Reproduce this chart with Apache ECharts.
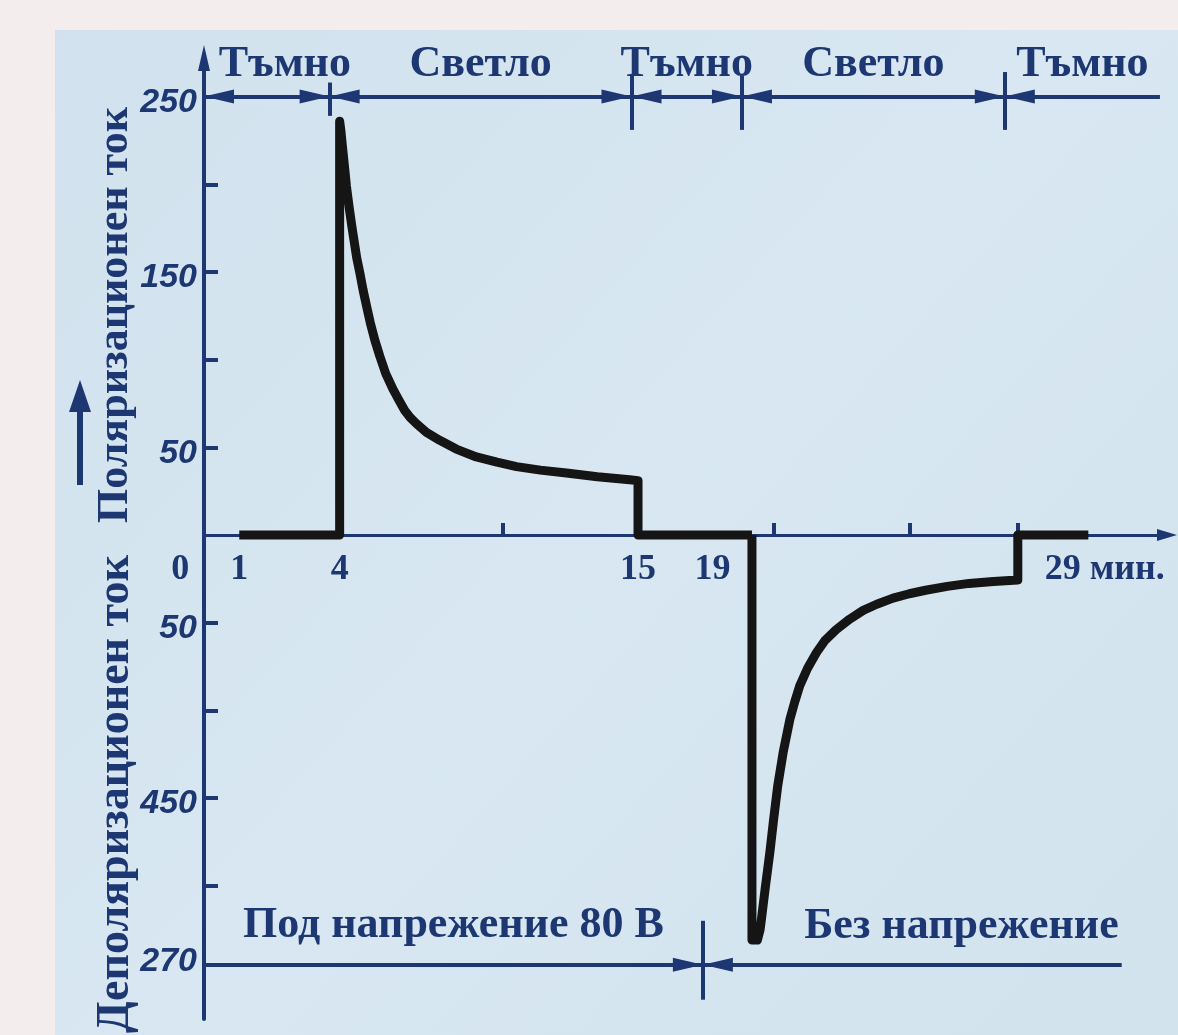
<!DOCTYPE html>
<html><head><meta charset="utf-8">
<script src="https://cdn.jsdelivr.net/npm/echarts@6.0.0/dist/echarts.min.js"></script>
<style>html,body{margin:0;padding:0;background:#f3eeed;} #c{width:1178px;height:1035px;}</style>
</head><body><div id="c"></div>
<script>
// ---- data ----
const polarizationTime    = [0.3, 4.0, 4.0, 4.05, 4.1, 4.18, 4.25, 4.35, 4.45, 4.55, 4.63, 4.75, 4.86, 5.0, 5.13, 5.3, 5.48, 5.7, 5.97, 6.2, 6.4, 6.6, 6.83, 7.2, 7.69, 8.3, 9.04, 9.8, 10.52, 11.4, 12.36, 13.5, 14.69, 15.0, 15.0, 19.2];
const polarizationCurrent = [0,   0,   236, 230,  222, 210,  199,  187,  176,  166,  158,  149,  140,  130, 121,  111, 102,  92,  83,   76.5, 71, 67,  63.5, 58.5, 54,  49,  44.5, 41.5, 39,   37,   35.3,  33.2, 31.5,  31,   0,    0];
const depolarizationTime    = [19.2, 19.2, 19.4, 19.5, 19.55, 19.7, 19.86, 20.0, 20.15, 20.35, 20.6, 20.78, 20.96, 21.25, 21.58, 21.9, 22.3, 22.8, 23.3, 23.8, 24.4, 25.0, 25.6, 26.4, 27.2, 28.1, 29.0, 29.0, 31.6];
const depolarizationCurrent = [0,    -231, -231, -225, -219,  -200, -181,  -162, -143,  -124,  -105, -95,   -86,   -76,   -67,   -60,  -54,  -48,  -43,  -39.5, -36, -33.5, -31.5, -29.3, -27.6, -26.5, -25.7, 0,  0];

const yLabelValues = [250, 150, 50, -50, -150, -250];
const yLabelTexts  = ['250', '150', '50', '50', '450', '270'];
const yTickValues  = [200, 150, 100, 50, -50, -100, -150, -200];
const xLabelValues = [0, 1, 4, 15, 19, 29];
const xLabelTexts  = ['0', '1', '4', '15', '19', '29 мин.'];
const xTickValues  = [10, 20, 25, 29];

const lightPhaseNames  = ['Тъмно', 'Светло', 'Тъмно', 'Светло', 'Тъмно'];
const lightPhaseBounds = [-1, 3.63, 14.76, 18.83, 28.52, 34.24];
const lightBarLevel = 250;
const lightSeparatorLow  = [239, 231, 231, 231];
const lightSeparatorHigh = [258, 262, 262, 264];

const voltagePhaseNames  = ['Под напрежение 80 В', 'Без напрежение'];
const voltagePhaseBounds = [-1, 17.39, 32.83];
const voltageBarLevel = -245;
const voltageSeparatorRange = [-220, -265];

// ---- styles ----
const ink = '#1d3772';
const curve = '#151515';
const serif = '"Liberation Serif", "DejaVu Serif", serif';
const sans = '"Liberation Sans", Arial, sans-serif';
const arrow = [14, 30];
const arrowOff = [0, 15];

const Y_MIN = -276, Y_MAX = 272, G_TOP = 58, G_BOTTOM = 16, H = 1035;
const plotH = H - G_TOP - G_BOTTOM;
const zeroOffset = -(plotH * (0 - Y_MIN) / (Y_MAX - Y_MIN));

const xShift = [[0,102,0,0],[0,38,0,0],[0,0,0,0],[0,0,0,0],[0,68,0,0],[0,0,0,174]];
const xRich = {};
xShift.forEach((p, i) => { xRich['x' + i] = {fontFamily: serif, fontWeight: 'bold', fontSize: 36, color: ink, padding: p}; });
const yRich = {
  n: {fontFamily: sans, fontWeight: 'bold', fontStyle: 'italic', fontSize: 34, color: ink, padding: [12,0,0,0]},
  b: {fontFamily: sans, fontWeight: 'bold', fontStyle: 'italic', fontSize: 34, color: ink, padding: [0,0,24,0]}
};
const lightLabelPad = [[0,0,0,36],[0,0,0,0],[0,0,0,0],[0,0,0,0],[0,0,0,0]];

const lightLines = lightPhaseNames.map((name, i) => [
  {name: name, coord: [lightPhaseBounds[i], lightBarLevel], symbol: 'triangle', symbolSize: arrow, symbolOffset: arrowOff,
   label: {padding: lightLabelPad[i]}},
  {coord: [lightPhaseBounds[i + 1], lightBarLevel], symbol: i === lightPhaseNames.length - 1 ? 'none' : 'triangle', symbolSize: arrow, symbolOffset: arrowOff}
]);
const lightSeps = lightPhaseBounds.slice(1, -1).map((t, i) => [
  {coord: [t, lightSeparatorLow[i]], symbol: 'none', label: {show: false}},
  {coord: [t, lightSeparatorHigh[i]], symbol: 'none'}
]);
const voltageLines = voltagePhaseNames.map((name, i) => [
  {name: name, coord: [voltagePhaseBounds[i], voltageBarLevel], symbol: i === 0 ? 'none' : 'triangle', symbolSize: arrow, symbolOffset: arrowOff,
   label: i === 0 ? {position: 'insideMiddleTop'} : {position: 'insideEndTop', distance: [3, 16]}},
  {coord: [voltagePhaseBounds[i + 1], voltageBarLevel], symbol: i === 0 ? 'triangle' : 'none', symbolSize: arrow, symbolOffset: arrowOff}
]);
const voltageSeps = voltagePhaseBounds.slice(1, -1).map(t => [
  {coord: [t, voltageSeparatorRange[0]], symbol: 'none', label: {show: false}},
  {coord: [t, voltageSeparatorRange[1]], symbol: 'none'}
]);

const topLabel = {show: true, position: 'insideMiddleTop', formatter: '{b}', distance: 10,
  fontFamily: serif, fontWeight: 'bold', fontSize: 44, color: ink};
const bottomLabel = Object.assign({}, topLabel, {distance: 17});

const chart = echarts.init(document.getElementById('c'), null, {renderer: 'canvas'});
chart.setOption({
  animation: false,
  backgroundColor: '#f3eeed',
  grid: {left: 204, right: 11, top: G_TOP, bottom: G_BOTTOM, containLabel: false, outerBoundsMode: 'none'},
  xAxis: {
    type: 'value', min: -1, max: 34.5, position: 'bottom', offset: zeroOffset,
    splitLine: {show: false},
    axisLine: {onZero: false, lineStyle: {color: ink, width: 3}, symbol: ['none', 'triangle'], symbolSize: [12, 20]},
    axisTick: {show: true, inside: true, length: 12, customValues: xTickValues, lineStyle: {color: ink, width: 4}},
    axisLabel: {show: true, margin: 17, customValues: xLabelValues, rich: xRich,
      formatter: (v) => { const i = xLabelValues.indexOf(v); return '{x' + i + '|' + xLabelTexts[i] + '}'; }}
  },
  yAxis: {
    type: 'value', min: Y_MIN, max: Y_MAX,
    splitLine: {show: false},
    axisLine: {onZero: false, lineStyle: {color: ink, width: 4}, symbol: ['none', 'triangle'], symbolSize: [12, 26]},
    axisTick: {show: true, inside: true, length: 14, customValues: yTickValues, lineStyle: {color: ink, width: 4}},
    axisLabel: {show: true, margin: 7, customValues: yLabelValues, rich: yRich,
      formatter: (v) => { const i = yLabelValues.indexOf(v); return (v === -250 ? '{b|' : '{n|') + yLabelTexts[i] + '}'; }}
  },
  graphic: [
    {type: 'rect', z: -10, silent: true, shape: {x: 55, y: 30, width: 1123, height: 1005},
     style: {fill: new echarts.graphic.LinearGradient(0, 0, 1, 1, [
       {offset: 0, color: '#d1e2ee'}, {offset: 0.5, color: '#d8e7f1'}, {offset: 1, color: '#d2e3ee'}])}},
    {type: 'text', x: 116, y: 315, rotation: Math.PI / 2, silent: true,
     style: {text: 'Поляризационен ток', fontFamily: serif, fontWeight: 'bold', fontSize: 44, fill: ink, align: 'center', verticalAlign: 'middle'}},
    {type: 'text', x: 116, y: 794, rotation: Math.PI / 2, silent: true,
     style: {text: 'Деполяризационен ток', fontFamily: serif, fontWeight: 'bold', fontSize: 46, fill: ink, align: 'center', verticalAlign: 'middle'}},
    {type: 'polyline', silent: true, shape: {points: [[80, 485], [80, 400]]}, style: {stroke: ink, lineWidth: 6}},
    {type: 'polygon', silent: true, shape: {points: [[80, 380], [69, 412], [91, 412]]}, style: {fill: ink}}
  ],
  series: [
    {
      type: 'line', name: 'Поляризационен ток',
      data: polarizationTime.map((t, i) => [t, polarizationCurrent[i]]),
      showSymbol: false, symbol: 'none', z: 4,
      lineStyle: {color: curve, width: 9, join: 'round'},
      emphasis: {disabled: true},
      markLine: {silent: true, animation: false, symbol: ['none', 'none'],
        lineStyle: {color: ink, width: 4, type: 'solid'}, label: topLabel, emphasis: {disabled: true},
        data: lightLines.concat(lightSeps)}
    },
    {
      type: 'line', name: 'Деполяризационен ток',
      data: depolarizationTime.map((t, i) => [t, depolarizationCurrent[i]]),
      showSymbol: false, symbol: 'none', z: 4,
      lineStyle: {color: curve, width: 9, join: 'round'},
      emphasis: {disabled: true},
      markLine: {silent: true, animation: false, symbol: ['none', 'none'],
        lineStyle: {color: ink, width: 4, type: 'solid'}, label: bottomLabel, emphasis: {disabled: true},
        data: voltageLines.concat(voltageSeps)}
    }
  ]
});
</script></body></html>
